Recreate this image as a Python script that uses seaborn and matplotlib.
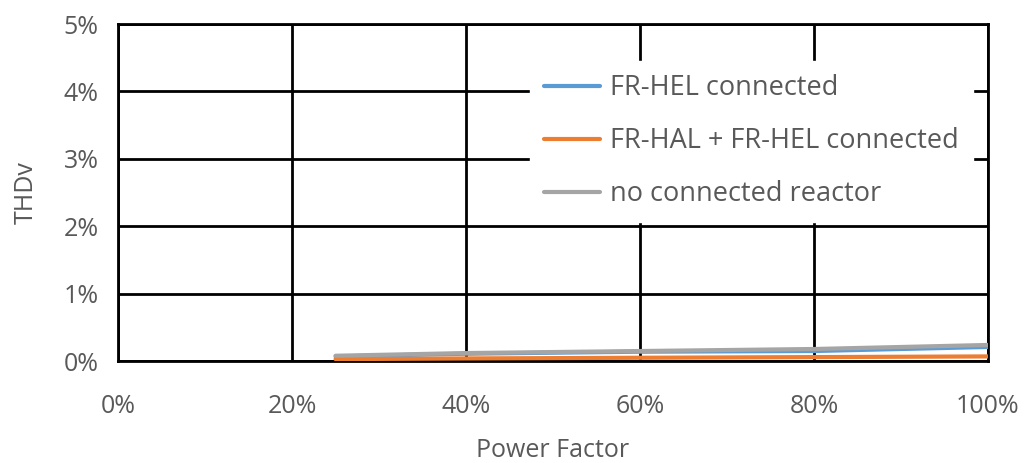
import numpy as np
import matplotlib
matplotlib.use("Agg")
import matplotlib.pyplot as plt
import seaborn as sns
import pandas as pd

power_factor = [25, 40, 60, 80, 100]
thd_hel = [0.07, 0.11, 0.14, 0.15, 0.21]
thd_hal_hel = [0.03, 0.04, 0.05, 0.06, 0.07]
thd_none = [0.08, 0.12, 0.15, 0.18, 0.24]
labels = ["FR-HEL connected", "FR-HAL + FR-HEL connected", "no connected reactor"]
colors = ["#5B9BD5", "#ED7D31", "#A5A5A5"]

df = pd.DataFrame({
    "pf": power_factor * 3,
    "thd": thd_hel + thd_hal_hel + thd_none,
    "series": [labels[0]] * 5 + [labels[1]] * 5 + [labels[2]] * 5,
})

sns.set_style("white")
plt.rcParams["font.family"] = ["Open Sans", "DejaVu Sans"]

fig = plt.figure(figsize=(10.27, 4.63), dpi=100)
ax = fig.add_axes([0.115, 0.22, 0.847, 0.728])
sns.lineplot(data=df, x="pf", y="thd", hue="series", hue_order=labels,
             palette=colors, linewidth=3, ax=ax, zorder=3)

ax.set_xlim(0, 100)
ax.set_ylim(0, 5)
ax.set_xticks(range(0, 101, 20))
ax.set_yticks(range(0, 6))
ax.set_xticklabels([f"{v}%" for v in range(0, 101, 20)])
ax.set_yticklabels([f"{v}%" for v in range(0, 6)])
ax.grid(True, color="black", linewidth=2)
ax.set_axisbelow(True)
for s in ax.spines.values():
    s.set_color("black")
    s.set_linewidth(2)
ax.tick_params(axis="both", length=0, labelsize=18, labelcolor="#595959")
ax.tick_params(axis="x", pad=24)
ax.tick_params(axis="y", pad=14)
ax.set_xlabel("Power Factor", fontsize=18, color="#595959", labelpad=13)
ax.set_ylabel("THDv", fontsize=18, color="#595959", labelpad=18)

leg = ax.legend(loc="upper left", bbox_to_anchor=(0.458, 0.932), frameon=True,
                fontsize=19.5, labelcolor="#595959", handlelength=2.1,
                handletextpad=0.37, labelspacing=0.93, borderpad=0.5)
leg.get_frame().set_edgecolor("white")
leg.get_frame().set_alpha(1)
leg.get_frame().set_boxstyle("square", pad=0)

fig.savefig("out.png", dpi=100)
